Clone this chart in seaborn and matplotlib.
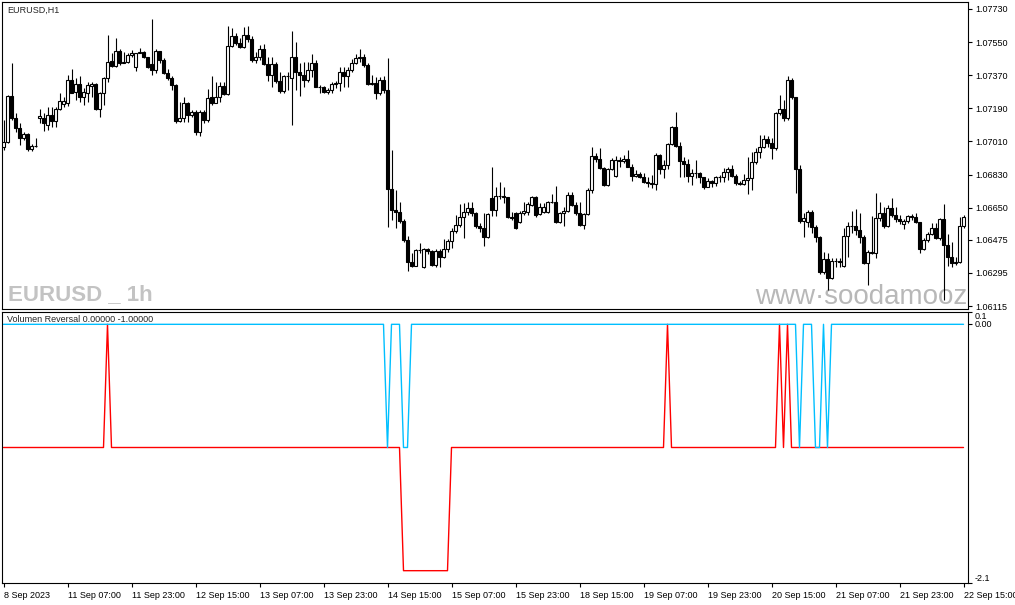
import numpy as np
import pandas as pd
import matplotlib
matplotlib.use("Agg")
import matplotlib.pyplot as plt
import seaborn as sns

# EURUSD H1 candles, 8 Sep 2023 15:00 -> 22 Sep 2023 15:00
opens = [
    1.06982, 1.07009, 1.07257, 1.07136, 1.07081, 1.07031, 1.07049, 1.06967, 1.06987, 1.07136,
    1.07139, 1.07100, 1.07154, 1.07121, 1.07185, 1.07214, 1.07217, 1.07344, 1.07281, 1.07322,
    1.07250, 1.07275, 1.07312, 1.07322, 1.07186, 1.07272, 1.07353, 1.07448, 1.07420, 1.07502,
    1.07439, 1.07444, 1.07480, 1.07417, 1.07489, 1.07497, 1.07471, 1.07430, 1.07399, 1.07502,
    1.07453, 1.07381, 1.07353, 1.07317, 1.07123, 1.07136, 1.07217, 1.07154, 1.07172, 1.07063,
    1.07172, 1.07127, 1.07250, 1.07221, 1.07250, 1.07312, 1.07268, 1.07529, 1.07584, 1.07547,
    1.07522, 1.07589, 1.07565, 1.07453, 1.07471, 1.07511, 1.07431, 1.07371, 1.07431, 1.07341,
    1.07286, 1.07366, 1.07353, 1.07468, 1.07390, 1.07371, 1.07344, 1.07399, 1.07439, 1.07308,
    1.07304, 1.07281, 1.07290, 1.07322, 1.07330, 1.07390, 1.07366, 1.07399, 1.07439, 1.07466,
    1.07471, 1.07426, 1.07322, 1.07330, 1.07275, 1.07344, 1.07290, 1.06750, 1.06637, 1.06628,
    1.06579, 1.06474, 1.06356, 1.06333, 1.06420, 1.06325, 1.06423, 1.06416, 1.06338, 1.06416,
    1.06383, 1.06423, 1.06470, 1.06525, 1.06556, 1.06597, 1.06628, 1.06646, 1.06623, 1.06550,
    1.06538, 1.06492, 1.06701, 1.06638, 1.06714, 1.06714, 1.06706, 1.06598, 1.06619, 1.06574,
    1.06619, 1.06629, 1.06665, 1.06710, 1.06616, 1.06629, 1.06629, 1.06679, 1.06683, 1.06574,
    1.06619, 1.06634, 1.06719, 1.06665, 1.06623, 1.06556, 1.06616, 1.06746, 1.06931, 1.06913,
    1.06864, 1.06774, 1.06859, 1.06823, 1.06910, 1.06906, 1.06913, 1.06873, 1.06823, 1.06833,
    1.06819, 1.06792, 1.06786, 1.06779, 1.06937, 1.06859, 1.06882, 1.06997, 1.07087, 1.06986,
    1.06906, 1.06888, 1.06823, 1.06837, 1.06837, 1.06815, 1.06764, 1.06797, 1.06783, 1.06815,
    1.06819, 1.06846, 1.06859, 1.06823, 1.06783, 1.06779, 1.06801, 1.06810, 1.06900, 1.06955,
    1.06978, 1.07022, 1.07004, 1.06973, 1.07163, 1.07185, 1.07136, 1.07345, 1.07254, 1.06859,
    1.06579, 1.06574, 1.06629, 1.06543, 1.06489, 1.06302, 1.06369, 1.06266, 1.06362, 1.06362,
    1.06333, 1.06496, 1.06550, 1.06550, 1.06529, 1.06493, 1.06347, 1.06411, 1.06405, 1.06592,
    1.06623, 1.06550, 1.06647, 1.06610, 1.06587, 1.06561, 1.06579, 1.06605, 1.06598, 1.06574,
    1.06424, 1.06474, 1.06507, 1.06538, 1.06483, 1.06587, 1.06447, 1.06380, 1.06347, 1.06353,
    1.06550,
]
closes = [
    1.07009, 1.07257, 1.07136, 1.07081, 1.07031, 1.07049, 1.06967, 1.06987, 1.06985, 1.07148,
    1.07109, 1.07154, 1.07121, 1.07185, 1.07232, 1.07232, 1.07344, 1.07275, 1.07322, 1.07250,
    1.07281, 1.07317, 1.07322, 1.07185, 1.07272, 1.07353, 1.07444, 1.07420, 1.07502, 1.07439,
    1.07444, 1.07480, 1.07493, 1.07489, 1.07497, 1.07471, 1.07417, 1.07399, 1.07502, 1.07453,
    1.07381, 1.07353, 1.07317, 1.07123, 1.07136, 1.07217, 1.07154, 1.07172, 1.07063, 1.07172,
    1.07127, 1.07245, 1.07221, 1.07250, 1.07312, 1.07268, 1.07529, 1.07584, 1.07547, 1.07522,
    1.07589, 1.07565, 1.07453, 1.07471, 1.07511, 1.07431, 1.07371, 1.07431, 1.07341, 1.07286,
    1.07366, 1.07366, 1.07468, 1.07390, 1.07371, 1.07344, 1.07399, 1.07439, 1.07308, 1.07304,
    1.07281, 1.07290, 1.07322, 1.07330, 1.07390, 1.07366, 1.07399, 1.07439, 1.07466, 1.07471,
    1.07426, 1.07322, 1.07330, 1.07275, 1.07344, 1.07290, 1.06750, 1.06637, 1.06628, 1.06579,
    1.06474, 1.06356, 1.06333, 1.06420, 1.06420, 1.06423, 1.06416, 1.06338, 1.06416, 1.06383,
    1.06423, 1.06470, 1.06525, 1.06556, 1.06597, 1.06628, 1.06646, 1.06623, 1.06550, 1.06538,
    1.06492, 1.06615, 1.06638, 1.06714, 1.06714, 1.06706, 1.06598, 1.06592, 1.06538, 1.06623,
    1.06634, 1.06670, 1.06710, 1.06610, 1.06652, 1.06652, 1.06679, 1.06679, 1.06574, 1.06619,
    1.06634, 1.06719, 1.06665, 1.06623, 1.06556, 1.06616, 1.06746, 1.06931, 1.06913, 1.06864,
    1.06774, 1.06859, 1.06910, 1.06910, 1.06906, 1.06913, 1.06873, 1.06823, 1.06833, 1.06819,
    1.06792, 1.06786, 1.06779, 1.06937, 1.06859, 1.06882, 1.06997, 1.07087, 1.06986, 1.06906,
    1.06888, 1.06823, 1.06837, 1.06837, 1.06815, 1.06764, 1.06797, 1.06783, 1.06815, 1.06819,
    1.06846, 1.06859, 1.06823, 1.06783, 1.06779, 1.06801, 1.06810, 1.06900, 1.06955, 1.06978,
    1.07022, 1.07004, 1.06973, 1.07163, 1.07185, 1.07136, 1.07345, 1.07254, 1.06859, 1.06579,
    1.06592, 1.06629, 1.06543, 1.06489, 1.06302, 1.06369, 1.06266, 1.06362, 1.06362, 1.06356,
    1.06496, 1.06550, 1.06550, 1.06529, 1.06493, 1.06347, 1.06411, 1.06405, 1.06592, 1.06623,
    1.06550, 1.06647, 1.06610, 1.06587, 1.06579, 1.06579, 1.06605, 1.06598, 1.06574, 1.06424,
    1.06474, 1.06507, 1.06538, 1.06483, 1.06587, 1.06447, 1.06380, 1.06347, 1.06353, 1.06550,
    1.06601,
]
highs = [
    1.07127, 1.07263, 1.07435, 1.07163, 1.07109, 1.07063, 1.07054, 1.06994, 1.07027, 1.07186,
    1.07163, 1.07199, 1.07199, 1.07199, 1.07272, 1.07250, 1.07371, 1.07402, 1.07353, 1.07366,
    1.07299, 1.07335, 1.07335, 1.07325, 1.07281, 1.07362, 1.07589, 1.07489, 1.07571, 1.07511,
    1.07498, 1.07493, 1.07507, 1.07493, 1.07517, 1.07504, 1.07471, 1.07674, 1.07511, 1.07504,
    1.07462, 1.07402, 1.07366, 1.07322, 1.07226, 1.07250, 1.07226, 1.07181, 1.07181, 1.07181,
    1.07181, 1.07294, 1.07366, 1.07335, 1.07335, 1.07335, 1.07638, 1.07625, 1.07598, 1.07571,
    1.07634, 1.07638, 1.07584, 1.07498, 1.07535, 1.07540, 1.07471, 1.07471, 1.07444, 1.07390,
    1.07371, 1.07390, 1.07613, 1.07553, 1.07435, 1.07444, 1.07444, 1.07486, 1.07453, 1.07317,
    1.07312, 1.07299, 1.07335, 1.07341, 1.07417, 1.07417, 1.07417, 1.07457, 1.07484, 1.07511,
    1.07486, 1.07435, 1.07371, 1.07362, 1.07362, 1.07366, 1.07462, 1.06964, 1.06746, 1.06683,
    1.06586, 1.06496, 1.06402, 1.06423, 1.06460, 1.06429, 1.06429, 1.06420, 1.06423, 1.06423,
    1.06478, 1.06478, 1.06538, 1.06610, 1.06670, 1.06674, 1.06683, 1.06683, 1.06628, 1.06565,
    1.06619, 1.06623, 1.06870, 1.06764, 1.06792, 1.06761, 1.06710, 1.06629, 1.06629, 1.06634,
    1.06683, 1.06683, 1.06714, 1.06714, 1.06677, 1.06677, 1.06686, 1.06725, 1.06768, 1.06629,
    1.06656, 1.06737, 1.06737, 1.06683, 1.06683, 1.06619, 1.06755, 1.06978, 1.06946, 1.06973,
    1.06873, 1.06864, 1.06919, 1.06931, 1.06924, 1.06937, 1.06964, 1.06888, 1.06855, 1.06846,
    1.06837, 1.06819, 1.06828, 1.06949, 1.06940, 1.06910, 1.07004, 1.07094, 1.07172, 1.07009,
    1.06924, 1.06913, 1.06859, 1.06910, 1.06846, 1.06819, 1.06810, 1.06801, 1.06823, 1.06828,
    1.06864, 1.06873, 1.06882, 1.06833, 1.06797, 1.06833, 1.06924, 1.06955, 1.06973, 1.07046,
    1.07046, 1.07040, 1.07027, 1.07172, 1.07263, 1.07236, 1.07363, 1.07354, 1.07254, 1.06882,
    1.06619, 1.06638, 1.06638, 1.06556, 1.06496, 1.06411, 1.06405, 1.06375, 1.06375, 1.06375,
    1.06538, 1.06574, 1.06634, 1.06641, 1.06619, 1.06502, 1.06420, 1.06605, 1.06728, 1.06683,
    1.06656, 1.06665, 1.06701, 1.06656, 1.06610, 1.06587, 1.06610, 1.06616, 1.06619, 1.06574,
    1.06483, 1.06520, 1.06565, 1.06565, 1.06592, 1.06670, 1.06507, 1.06465, 1.06384, 1.06601,
    1.06610,
]
lows = [
    1.06964, 1.07000, 1.07127, 1.07063, 1.06991, 1.07018, 1.06960, 1.06960, 1.06982, 1.07109,
    1.07069, 1.07072, 1.07090, 1.07090, 1.07181, 1.07199, 1.07203, 1.07272, 1.07235, 1.07226,
    1.07208, 1.07226, 1.07254, 1.07181, 1.07145, 1.07208, 1.07335, 1.07417, 1.07417, 1.07426,
    1.07435, 1.07435, 1.07471, 1.07393, 1.07489, 1.07462, 1.07408, 1.07371, 1.07381, 1.07435,
    1.07375, 1.07344, 1.07290, 1.07112, 1.07118, 1.07118, 1.07118, 1.07145, 1.07045, 1.07040,
    1.07109, 1.07118, 1.07208, 1.07217, 1.07226, 1.07263, 1.07263, 1.07522, 1.07535, 1.07517,
    1.07517, 1.07553, 1.07444, 1.07435, 1.07453, 1.07426, 1.07341, 1.07308, 1.07326, 1.07275,
    1.07275, 1.07290, 1.07100, 1.07290, 1.07257, 1.07308, 1.07335, 1.07362, 1.07304, 1.07272,
    1.07272, 1.07268, 1.07272, 1.07299, 1.07286, 1.07308, 1.07304, 1.07390, 1.07431, 1.07444,
    1.07417, 1.07317, 1.07317, 1.07239, 1.07263, 1.07272, 1.06543, 1.06583, 1.06538, 1.06565,
    1.06465, 1.06307, 1.06325, 1.06333, 1.06402, 1.06320, 1.06398, 1.06333, 1.06329, 1.06325,
    1.06374, 1.06411, 1.06429, 1.06510, 1.06547, 1.06483, 1.06610, 1.06605, 1.06538, 1.06519,
    1.06441, 1.06483, 1.06605, 1.06605, 1.06696, 1.06674, 1.06592, 1.06583, 1.06532, 1.06569,
    1.06610, 1.06610, 1.06659, 1.06601, 1.06610, 1.06623, 1.06623, 1.06674, 1.06569, 1.06565,
    1.06550, 1.06629, 1.06659, 1.06610, 1.06550, 1.06532, 1.06610, 1.06732, 1.06900, 1.06859,
    1.06768, 1.06768, 1.06855, 1.06819, 1.06873, 1.06891, 1.06870, 1.06797, 1.06815, 1.06810,
    1.06786, 1.06764, 1.06755, 1.06746, 1.06833, 1.06810, 1.06859, 1.06991, 1.06982, 1.06819,
    1.06815, 1.06792, 1.06774, 1.06810, 1.06783, 1.06750, 1.06761, 1.06761, 1.06768, 1.06792,
    1.06792, 1.06801, 1.06815, 1.06774, 1.06774, 1.06774, 1.06725, 1.06746, 1.06888, 1.06919,
    1.06973, 1.06978, 1.06913, 1.06964, 1.07154, 1.07123, 1.07127, 1.07240, 1.06728, 1.06569,
    1.06492, 1.06547, 1.06514, 1.06465, 1.06289, 1.06289, 1.06202, 1.06260, 1.06329, 1.06326,
    1.06326, 1.06384, 1.06511, 1.06502, 1.06460, 1.06344, 1.06230, 1.06398, 1.06375, 1.06579,
    1.06538, 1.06543, 1.06601, 1.06574, 1.06561, 1.06532, 1.06569, 1.06583, 1.06565, 1.06405,
    1.06420, 1.06465, 1.06502, 1.06478, 1.06474, 1.06148, 1.06333, 1.06329, 1.06338, 1.06347,
    1.06538,
]

time_labels = ["8 Sep 2023", "11 Sep 07:00", "11 Sep 23:00", "12 Sep 15:00", "13 Sep 07:00",
               "13 Sep 23:00", "14 Sep 15:00", "15 Sep 07:00", "15 Sep 23:00", "18 Sep 15:00",
               "19 Sep 07:00", "19 Sep 23:00", "20 Sep 15:00", "21 Sep 07:00", "21 Sep 23:00",
               "22 Sep 15:00"]
time_label_bars = [0, 16, 32, 48, 64, 80, 96, 112, 128, 144, 160, 176, 192, 208, 224, 240]
price_ticks = [1.07730, 1.07550, 1.07370, 1.07190, 1.07010, 1.06830, 1.06650, 1.06475,
               1.06295, 1.06115]

# Volumen Reversal indicator: red buffer sits at -1, cyan buffer at 0
red_up_bars = [26, 166, 194, 196]              # red goes to 0
red_low_bars = [100, 101, 102, 103, 104, 105, 106, 107, 108, 109, 110, 111]  # red at -2
cyan_dip_bars = [96, 100, 101, 199, 203, 204, 206]   # cyan goes to -1

n = len(closes)
bars = np.arange(n)
red = np.full(n, -1.0)
red[red_up_bars] = 0.0
red[red_low_bars] = -2.0
cyan = np.zeros(n)
cyan[cyan_dip_bars] = -1.0

df = pd.DataFrame({"bar": bars, "open": opens, "high": highs, "low": lows,
                   "close": closes, "red": red, "cyan": cyan})
df["high"] = df[["high", "open", "close"]].max(axis=1)
df["low"] = df[["low", "open", "close"]].min(axis=1)

sns.set_style("white")
plt.rcParams["font.family"] = ["Liberation Sans", "DejaVu Sans"]
plt.rcParams["axes.edgecolor"] = "black"
plt.rcParams["axes.linewidth"] = 0.8

W, H = 1015, 605
fig = plt.figure(figsize=(W / 100, H / 100), dpi=100)


def px_axes(left, top, right, bottom):
    return fig.add_axes([left / W, 1 - bottom / H, (right - left) / W, (bottom - top) / H])


ax = px_axes(2, 2, 968, 309)
ax2 = px_axes(2, 312, 968, 583)
xlim = (-0.375, 241.125)

# ---- candles ----
up = df["close"] >= df["open"]
ax.vlines(df["bar"], df["low"], df["high"], color="black", linewidth=0.8, zorder=2)
ax.bar(df["bar"], df["close"] - df["open"], bottom=df["open"], width=0.55,
       color=np.where(up, "white", "black"), edgecolor="black", linewidth=0.8, zorder=3)
ax.set_xlim(*xlim)
ax.set_ylim(1.06099, 1.07768)
ax.set_xticks([])
ax.yaxis.tick_right()
ax.set_yticks(price_ticks)
ax.set_yticklabels([f"{p:.5f}" for p in price_ticks])
ax.tick_params(axis="y", direction="out", length=3, width=0.8, labelsize=6.5, pad=2,
               right=True, left=False, colors="black")

fig.text(7 / W, 1 - 10 / H, "EURUSD,H1", fontsize=6.5, va="center", ha="left")
ax.text(8 / W, 1 - 300 / H, "EURUSD _ 1h", transform=fig.transFigure, fontsize=16,
        fontweight="bold", color="#c3c3c3", va="baseline", ha="left", zorder=0)
ax.text(755 / W, 1 - 304 / H, "www\u00b7soodamooz", transform=fig.transFigure, fontsize=20,
        color="#b8b8b8", va="baseline", ha="left", zorder=0, clip_on=True)

# ---- indicator ----
sns.lineplot(data=df, x="bar", y="red", color="#ff0000", linewidth=1, ax=ax2)
sns.lineplot(data=df, x="bar", y="cyan", color="#00bfff", linewidth=1, ax=ax2)
ax2.set_xlim(*xlim)
ax2.set_ylim(-2.1, 0.1)
ax2.set_xlabel("")
ax2.set_ylabel("")
ax2.yaxis.tick_right()
ax2.set_yticks([0.1, 0.0, -2.1])
ax2.set_yticklabels(["0.1", "0.00", "-2.1"])
for lbl, va in zip(ax2.get_yticklabels(), ["top", "center", "bottom"]):
    lbl.set_va(va)
ax2.tick_params(axis="y", direction="out", length=3, width=0.8, labelsize=6.5, pad=2,
                right=True, left=False, colors="black")
ax2.set_xticks(time_label_bars)
ax2.set_xticklabels(time_labels)
for lbl in ax2.get_xticklabels():
    lbl.set_ha("left")
ax2.tick_params(axis="x", direction="out", length=3, width=0.8, labelsize=6.5, pad=3,
                bottom=True, colors="black")
fig.text(7 / W, 1 - 320 / H, "Volumen Reversal 0.00000 -1.00000", fontsize=6.5,
         va="center", ha="left")

fig.savefig("out.png", dpi=100)
